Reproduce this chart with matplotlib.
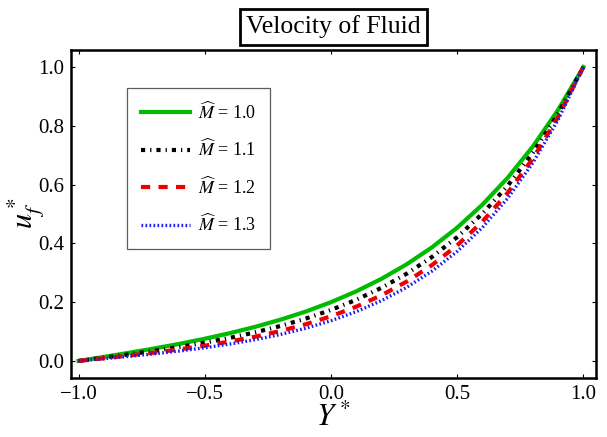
import matplotlib
matplotlib.use("Agg")
import matplotlib.pyplot as plt

plt.rcParams['font.family'] = ['Liberation Serif', 'DejaVu Serif']
plt.rcParams['mathtext.fontset'] = 'stix'

y_star = [-1.0, -0.9, -0.8, -0.7, -0.6, -0.5, -0.4, -0.3, -0.2, -0.1, 0.0,
          0.1, 0.2, 0.3, 0.4, 0.5, 0.6, 0.7, 0.8, 0.9, 1.0]
u_m10 = [0.0, 0.0137, 0.0278, 0.0426, 0.0583, 0.0756, 0.0947, 0.1161, 0.1404, 0.1681, 0.2000,
         0.2368, 0.2794, 0.3289, 0.3865, 0.4535, 0.5318, 0.6231, 0.7298, 0.8544, 1.0]
u_m11 = [0.0, 0.0111, 0.0225, 0.0346, 0.0477, 0.0623, 0.0787, 0.0974, 0.1190, 0.1441, 0.1735,
         0.2081, 0.2488, 0.2969, 0.3538, 0.4213, 0.5012, 0.5959, 0.7084, 0.8418, 1.0]
u_m12 = [0.0, 0.0091, 0.0185, 0.0285, 0.0395, 0.0519, 0.0661, 0.0826, 0.1019, 0.1248, 0.1520,
         0.1845, 0.2234, 0.2700, 0.3260, 0.3933, 0.4743, 0.5717, 0.6889, 0.8301, 1.0]
u_m13 = [0.0, 0.0077, 0.0157, 0.0244, 0.0340, 0.0449, 0.0575, 0.0724, 0.0901, 0.1113, 0.1368,
         0.1677, 0.2051, 0.2505, 0.3056, 0.3726, 0.4542, 0.5534, 0.6741, 0.8211, 1.0]
labels = [r'$\widehat{M}$ = 1.0', r'$\widehat{M}$ = 1.1', r'$\widehat{M}$ = 1.2', r'$\widehat{M}$ = 1.3']
x_ticks = [-1.0, -0.5, 0.0, 0.5, 1.0]
y_ticks = [0.0, 0.2, 0.4, 0.6, 0.8, 1.0]

fig = plt.figure(figsize=(6.07, 4.37), dpi=100)
ax = fig.add_axes([71/607, 1-378/437, 525/607, 328/437])

ax.plot(y_star, u_m10, color='#00bb00', lw=3.0, ls='-', label=labels[0])
ax.plot(y_star, u_m11, color='black', lw=3.0, ls=(0, (1.0, 1.2, 0.3, 1.2)), label=labels[1])
ax.plot(y_star, u_m12, color='#ee0000', lw=3.0, ls=(0, (2.2, 2.0)), label=labels[2])
ax.plot(y_star, u_m13, color='#1a1aee', lw=2.4, ls=(0, (0.5, 0.7)), label=labels[3])

ax.set_xlim(-1.03, 1.05)
ax.set_ylim(-0.058, 1.058)
ax.set_xticks(x_ticks)
ax.set_xticklabels(['\u22121.0', '\u22120.5', '0.0', '0.5', '1.0'])
ax.set_yticks(y_ticks)
ax.set_yticklabels(['0.0', '0.2', '0.4', '0.6', '0.8', '1.0'])
ax.tick_params(direction='in', length=3, width=0.8, top=True, right=True,
               labelsize=15, pad=5, colors='black')
for s in ax.spines.values():
    s.set_linewidth(1.8)

ax.set_xlabel(r'$Y^*$', fontsize=22, labelpad=0)
fig.text(26/607, 1-213/437, r'$u_f^*$', fontsize=22, rotation=90,
         ha='center', va='center')

ax.set_title('Velocity of Fluid', fontsize=18.5, pad=12,
             bbox=dict(boxstyle='square,pad=0.25', fc='white', ec='black', lw=2))

leg = ax.legend(loc='upper left', bbox_to_anchor=(0.107, 0.885), fontsize=13,
                handlelength=2.75, labelspacing=0.9, borderpad=0.75, handletextpad=0.45,
                frameon=True, fancybox=False, edgecolor='#333333', borderaxespad=0)
leg.get_frame().set_linewidth(0.9)

fig.savefig('out.png', dpi=100)
